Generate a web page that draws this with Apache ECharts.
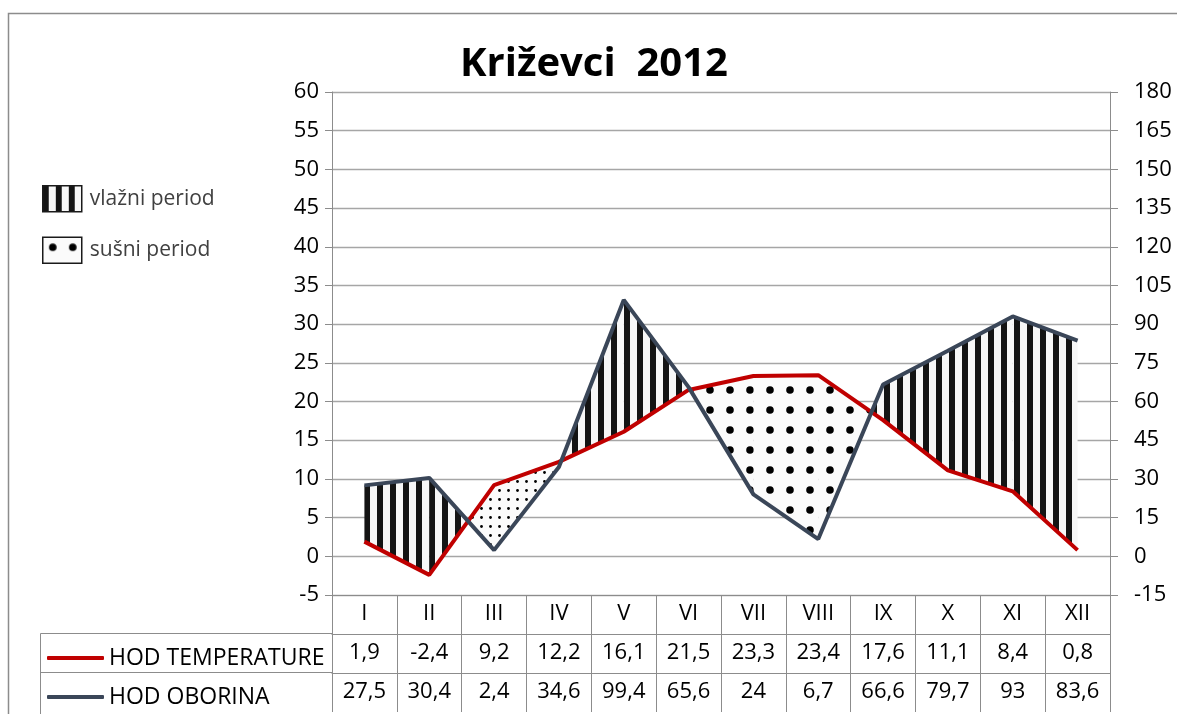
<!DOCTYPE html>
<html>
<head>
<meta charset="utf-8">
<script src="https://cdn.jsdelivr.net/npm/echarts@6/dist/echarts.min.js"></script>
<style>
  html, body { margin: 0; padding: 0; background: #fff; }
  #chart { width: 1177px; height: 714px; }
</style>
</head>
<body>
<div id="chart"></div>
<script>
// chart values
const months = ['I', 'II', 'III', 'IV', 'V', 'VI', 'VII', 'VIII', 'IX', 'X', 'XI', 'XII']
const temperature = [1.9, -2.4, 9.2, 12.2, 16.1, 21.5, 23.3, 23.4, 17.6, 11.1, 8.4, 0.8]
const precipitation = [27.5, 30.4, 2.4, 34.6, 99.4, 65.6, 24, 6.7, 66.6, 79.7, 93, 83.6]
const tempAxis = { min: -5, max: 60, interval: 5 }
const precAxis = { min: -15, max: 180, interval: 15 }

const FONT = 'Open Sans'
const FONT_SIZE = 22
const GRID_GRAY = '#a6a6a6'
const AXIS_GRAY = '#8c8c8c'
const TEMP_COLOR = '#c00000'
const PREC_COLOR = '#3a4658'

/**
 * vertical black stripes on white (wet period)
 */
function stripePattern() {
  const c = document.createElement('canvas')
  c.width = 13
  c.height = 13
  const g = c.getContext('2d')
  g.fillStyle = '#f7f7f7'
  g.fillRect(0, 0, 13, 13)
  g.fillStyle = '#141414'
  g.fillRect(0, 0, 6, 13)
  return { image: c, repeat: 'repeat' }
}

/**
 * black dots on white (dry period)
 */
function dotPattern(size, radius) {
  const c = document.createElement('canvas')
  c.width = size
  c.height = size
  const g = c.getContext('2d')
  g.fillStyle = '#fbfbfb'
  g.fillRect(0, 0, size, size)
  g.fillStyle = '#000'
  g.beginPath()
  g.arc(size / 2, size / 2, radius, 0, Math.PI * 2)
  g.fill()
  return { image: c, repeat: 'repeat' }
}

const wetFill = stripePattern()
const dryFill = dotPattern(20, 3.8)
const dryFillFine = dotPattern(9, 1.4)

// precipitation value expressed on the temperature axis
const ratio = (precAxis.max - precAxis.min) / (tempAxis.max - tempAxis.min)
const toTempScale = p => tempAxis.min + (p - precAxis.min) / ratio

const segments = months.slice(0, -1).map((m, i) =>
  [i, temperature[i], temperature[i + 1], precipitation[i], precipitation[i + 1]])

function bandRenderer(wet, fill, smallFill) {
  return function (params, api) {
    const i = api.value(0)
    const t0 = api.value(1), t1 = api.value(2)
    const p0 = toTempScale(api.value(3)), p1 = toTempScale(api.value(4))
    const T0 = api.coord([i, t0]), T1 = api.coord([i + 1, t1])
    const P0 = api.coord([i, p0]), P1 = api.coord([i + 1, p1])
    const d0 = p0 - t0, d1 = p1 - t1
    const want = d => wet ? d > 0 : d < 0
    const polys = []
    if (d0 * d1 >= 0) {
      if (want(d0 + d1)) polys.push([T0, T1, P1, P0])
    } else {
      // lines cross inside the segment: split at the crossing
      const f = d0 / (d0 - d1)
      const X = [T0[0] + f * (T1[0] - T0[0]), T0[1] + f * (T1[1] - T0[1])]
      if (want(d0)) polys.push([T0, X, P0])
      if (want(d1)) polys.push([X, T1, P1])
    }
    return {
      type: 'group',
      children: polys.map(points => {
        const ys = points.map(p => p[1])
        const tall = Math.max(...ys) - Math.min(...ys)
        return {
          type: 'polygon',
          shape: { points },
          style: { fill: smallFill && tall < 90 ? smallFill : fill, stroke: null }
        }
      })
    }
  }
}

const fmt = v => String(v).replace('.', ',')

const tableAxis = (data, offset) => ({
  type: 'category',
  data,
  position: 'bottom',
  offset,
  boundaryGap: true,
  axisLine: { show: true, onZero: false, lineStyle: { color: AXIS_GRAY, width: 1 } },
  axisTick: { show: true, interval: 0, length: 39, alignWithLabel: false, lineStyle: { color: AXIS_GRAY } },
  axisLabel: { fontFamily: FONT, fontSize: FONT_SIZE, color: '#000', margin: 8, interval: 0 },
  splitLine: { show: false }
})

const chart = echarts.init(document.getElementById('chart'), null, { renderer: 'canvas' })

chart.setOption({
  animation: false,
  backgroundColor: '#fff',
  title: {
    text: 'Križevci  2012',
    left: 455,
    top: 40,
    textStyle: { fontFamily: FONT, fontSize: 40, fontWeight: 'bold', color: '#000' }
  },
  grid: { left: 332, right: 67, top: 92, bottom: 119, containLabel: false },
  legend: [
    {
      data: ['vlažni period', 'sušni period'],
      orient: 'vertical',
      left: 37,
      top: 180,
      itemWidth: 39,
      itemHeight: 26,
      itemGap: 24,
      icon: 'rect',
      selectedMode: false,
      itemStyle: { borderColor: '#1a1a1a', borderWidth: 1.5 },
      textStyle: { fontFamily: FONT, fontSize: 21, color: '#404040', padding: [0, 0, 0, 3] }
    },
    {
      data: ['HOD TEMPERATURE', 'HOD OBORINA'],
      orient: 'vertical',
      left: 42,
      top: 641,
      itemWidth: 57,
      itemHeight: 4,
      itemGap: 15,
      icon: 'roundRect',
      selectedMode: false,
      textStyle: { fontFamily: FONT, fontSize: 23, color: '#000', lineHeight: 24 }
    }
  ],
  xAxis: [
    tableAxis(months, 0),
    tableAxis(temperature.map(fmt), 39),
    tableAxis(precipitation.map(fmt), 78)
  ],
  yAxis: [
    {
      type: 'value',
      min: tempAxis.min,
      max: tempAxis.max,
      interval: tempAxis.interval,
      position: 'left',
      axisLine: { show: true, lineStyle: { color: AXIS_GRAY } },
      axisTick: { show: true, length: 7, lineStyle: { color: AXIS_GRAY } },
      axisLabel: { fontFamily: FONT, fontSize: FONT_SIZE, color: '#000', margin: 13 },
      splitLine: { show: true, lineStyle: { color: GRID_GRAY, width: 1.3 } }
    },
    {
      type: 'value',
      min: precAxis.min,
      max: precAxis.max,
      interval: precAxis.interval,
      position: 'right',
      axisLine: { show: true, lineStyle: { color: AXIS_GRAY } },
      axisTick: { show: true, length: 8, lineStyle: { color: AXIS_GRAY } },
      axisLabel: { fontFamily: FONT, fontSize: FONT_SIZE, color: '#000', margin: 24 },
      splitLine: { show: false }
    }
  ],
  series: [
    {
      name: 'vlažni period',
      type: 'custom',
      xAxisIndex: 0,
      yAxisIndex: 0,
      z: 1,
      itemStyle: { color: wetFill },
      renderItem: bandRenderer(true, wetFill),
      data: segments,
      silent: true
    },
    {
      name: 'sušni period',
      type: 'custom',
      xAxisIndex: 0,
      yAxisIndex: 0,
      z: 1,
      itemStyle: { color: dryFill },
      renderItem: bandRenderer(false, dryFill, dryFillFine),
      data: segments,
      silent: true
    },
    {
      name: 'HOD TEMPERATURE',
      type: 'line',
      xAxisIndex: 0,
      yAxisIndex: 0,
      z: 3,
      symbol: 'none',
      color: TEMP_COLOR,
      lineStyle: { color: TEMP_COLOR, width: 4 },
      data: temperature
    },
    {
      name: 'HOD OBORINA',
      type: 'line',
      xAxisIndex: 0,
      yAxisIndex: 1,
      z: 3,
      symbol: 'none',
      color: PREC_COLOR,
      lineStyle: { color: PREC_COLOR, width: 4 },
      data: precipitation
    }
  ],
  graphic: [
    // outer chart border, cut off at right and bottom like the source
    {
      type: 'rect',
      shape: { x: 8.5, y: 13.5, width: 1200, height: 720 },
      style: { fill: null, stroke: '#8c8c8c', lineWidth: 1.5 },
      silent: true
    },
    // left part of the data table
    {
      type: 'polyline',
      shape: { points: [[332, 633.5], [40.5, 633.5], [40.5, 714]] },
      style: { fill: null, stroke: AXIS_GRAY, lineWidth: 1 },
      silent: true
    },
    {
      type: 'line',
      shape: { x1: 40.5, y1: 672.5, x2: 332, y2: 672.5 },
      style: { stroke: AXIS_GRAY, lineWidth: 1 },
      silent: true
    }
  ]
})
</script>
</body>
</html>
